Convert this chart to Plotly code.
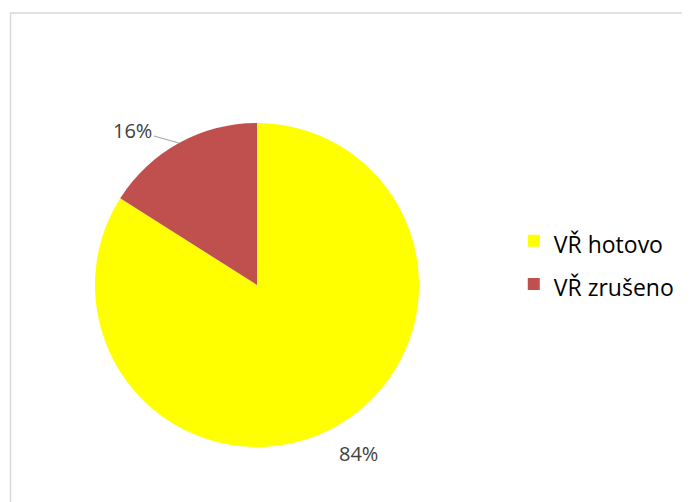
import math

import plotly.graph_objects as go

labels = ["VŘ hotovo", "VŘ zrušeno"]
values = [84, 16]
colors = ["#FFFF00", "#C0504D"]

W, H = 690, 502
CX, CY, R = 249, 277, 162          # pie centre / radius in figure pixels
LABEL_R = 210                       # distance of percent labels from centre
LABEL_COLOR = "#404040"

# legend text drawn smaller than the legend font so the rows get Excel-like spacing
legend_labels = [f"<span style='font-size:23px'>{s}</span>" for s in labels]

fig = go.Figure()

fig.add_trace(
    go.Pie(
        labels=legend_labels,
        values=values,
        sort=False,
        direction="clockwise",
        rotation=0,
        marker=dict(colors=colors, line=dict(width=0)),
        textinfo="none",
        domain=dict(x=[(CX - R) / W, (CX + R) / W], y=[1 - (CY + R) / H, 1 - (CY - R) / H]),
        hoverinfo="percent",
    )
)

# --- percent labels, placed at each slice's mid angle ---
total = sum(values)
start = 0.0
for i, v in enumerate(values):
    mid = math.radians((start + v / 2) / total * 360)
    start += v
    pct = f"{v / total:.0%}"
    if i == 0:
        lx, ly = CX + LABEL_R * math.sin(mid), CY - LABEL_R * math.cos(mid)
        fig.add_annotation(
            x=lx / W, y=1 - ly / H, xref="paper", yref="paper",
            text=pct, showarrow=False,
            font=dict(family="Open Sans", size=20, color=LABEL_COLOR),
        )
    else:
        # small slice: label pulled aside with a leader line, like Excel
        ex, ey = CX + R * math.sin(mid), CY - R * math.cos(mid)
        fig.add_annotation(
            x=ex / W, y=1 - ey / H, xref="paper", yref="paper",
            text=pct, showarrow=True, arrowhead=0, arrowwidth=1.2,
            arrowcolor="#A6A6A6", ax=-46, ay=-13, standoff=0,
            font=dict(family="Open Sans", size=20, color=LABEL_COLOR),
        )

# chart area border
fig.add_shape(
    type="rect",
    xref="paper", yref="paper",
    x0=2.5 / W, x1=1.05, y0=-0.05, y1=1 - 5 / H,
    line=dict(color="#D9D9D9", width=1.5),
    fillcolor="rgba(0,0,0,0)",
)

fig.update_layout(
    width=W,
    height=H,
    margin=dict(l=0, r=0, t=0, b=0),
    paper_bgcolor="#FFFFFF",
    plot_bgcolor="#FFFFFF",
    showlegend=True,
    legend=dict(
        x=0.733, y=0.493,
        xanchor="left", yanchor="middle",
        font=dict(family="Open Sans", size=31, color="#000000"),
        itemwidth=30,
        bgcolor="rgba(0,0,0,0)",
    ),
)

fig.write_html("out.html")
